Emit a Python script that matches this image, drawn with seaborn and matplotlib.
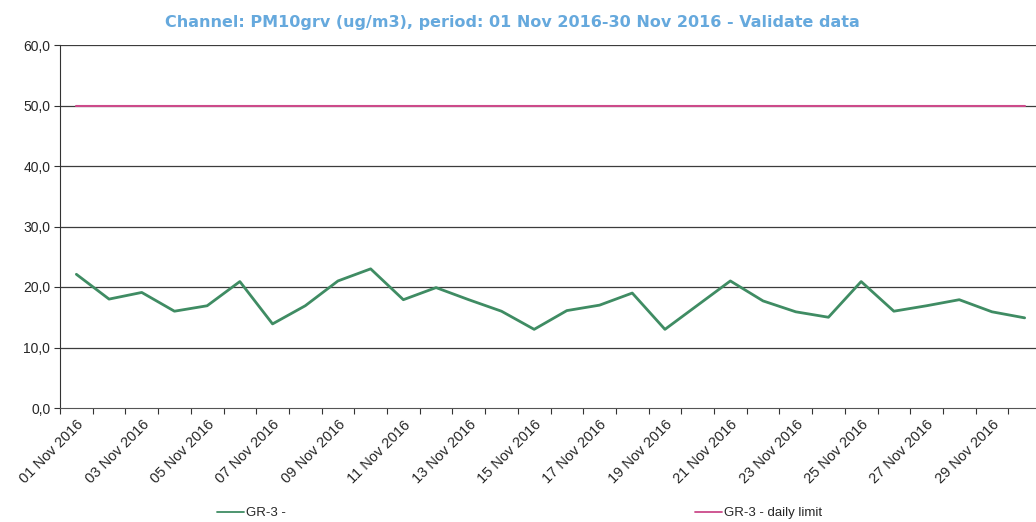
import numpy as np
import pandas as pd
import matplotlib
matplotlib.use("Agg")
import matplotlib.pyplot as plt
from matplotlib.lines import Line2D
import seaborn as sns

# daily PM10 values, 01-30 Nov 2016
days = [f"{d:02d} Nov 2016" for d in range(1, 31)]
pm10 = [22.1, 18.0, 19.1, 16.0, 16.9, 20.9, 13.9, 16.9, 21.0, 23.0,
        17.9, 19.9, 17.9, 16.0, 13.0, 16.1, 17.0, 19.0, 13.0, 17.0,
        21.0, 17.7, 15.9, 15.0, 20.9, 16.0, 16.9, 17.9, 15.9, 14.9]
limit = [50.0] * 30
yticks = [0, 10, 20, 30, 40, 50, 60]

df = pd.DataFrame({"day": days, "pm10": pm10, "limit": limit})
df["pos"] = np.arange(len(days))

sns.set_style("white")
plt.rcParams['font.family'] = ['Liberation Sans', 'DejaVu Sans']

fig = plt.figure(figsize=(10.36, 5.22), dpi=100)
ax = fig.add_axes([60 / 1036, 114 / 522, 981 / 1036, 363 / 522])

for y in yticks[1:]:
    ax.axhline(y, color="#3c3c3c", lw=0.9, zorder=1)

green = "#3f8c63"
pink = "#cc4a8a"
sns.lineplot(data=df, x="pos", y="pm10", ax=ax, color=green, lw=2.0, zorder=3)
sns.lineplot(data=df, x="pos", y="limit", ax=ax, color=pink, lw=1.5, zorder=2)

ax.set_xlim(-0.5, len(days) - 0.5)
ax.set_ylim(0, 60)
ax.set_yticks(yticks)
ax.set_yticklabels([f"{v:.1f}".replace(".", ",") for v in yticks], fontsize=10)

# ticks on category boundaries, labels on every second day
ax.set_xticks(np.arange(-0.5, len(days), 1.0), minor=False)
ax.set_xticklabels([])
ax.set_xticks(df["pos"][::2], minor=True)
ax.set_xticklabels(days[::2], minor=True, rotation=45, ha="right",
                   rotation_mode="anchor", fontsize=10.5)
ax.tick_params(axis="x", which="minor", length=0, pad=7)
ax.tick_params(axis="x", which="major", length=4, width=0.8, color="#333333",
               direction="out", bottom=True)
ax.tick_params(axis="y", length=4, width=0.8, color="#333333", direction="out",
               left=True, pad=3)
ax.set_xlabel("")
ax.set_ylabel("")

for s in ["top", "right"]:
    ax.spines[s].set_visible(False)
ax.spines["left"].set_color("#333333")
ax.spines["bottom"].set_color("#555555")

handles = [Line2D([], [], color=green, lw=1.3), Line2D([], [], color=pink, lw=1.3)]
labels = ["GR-3 -", "GR-3 - daily limit"]
fig.legend(handles, labels, loc="center", bbox_to_anchor=(520 / 1036, 1 - 513 / 522),
           ncol=2, frameon=False, fontsize=9.5, handlelength=2.0, handletextpad=0.2,
           columnspacing=31)

fig.text(512 / 1036, 1 - 22 / 522,
         "Channel: PM10grv (ug/m3), period: 01 Nov 2016-30 Nov 2016 - Validate data",
         ha="center", va="center", fontsize=11.5, fontweight="bold",
         color="#66a9dd", family="DejaVu Sans")

fig.savefig("out.png", dpi=100)
